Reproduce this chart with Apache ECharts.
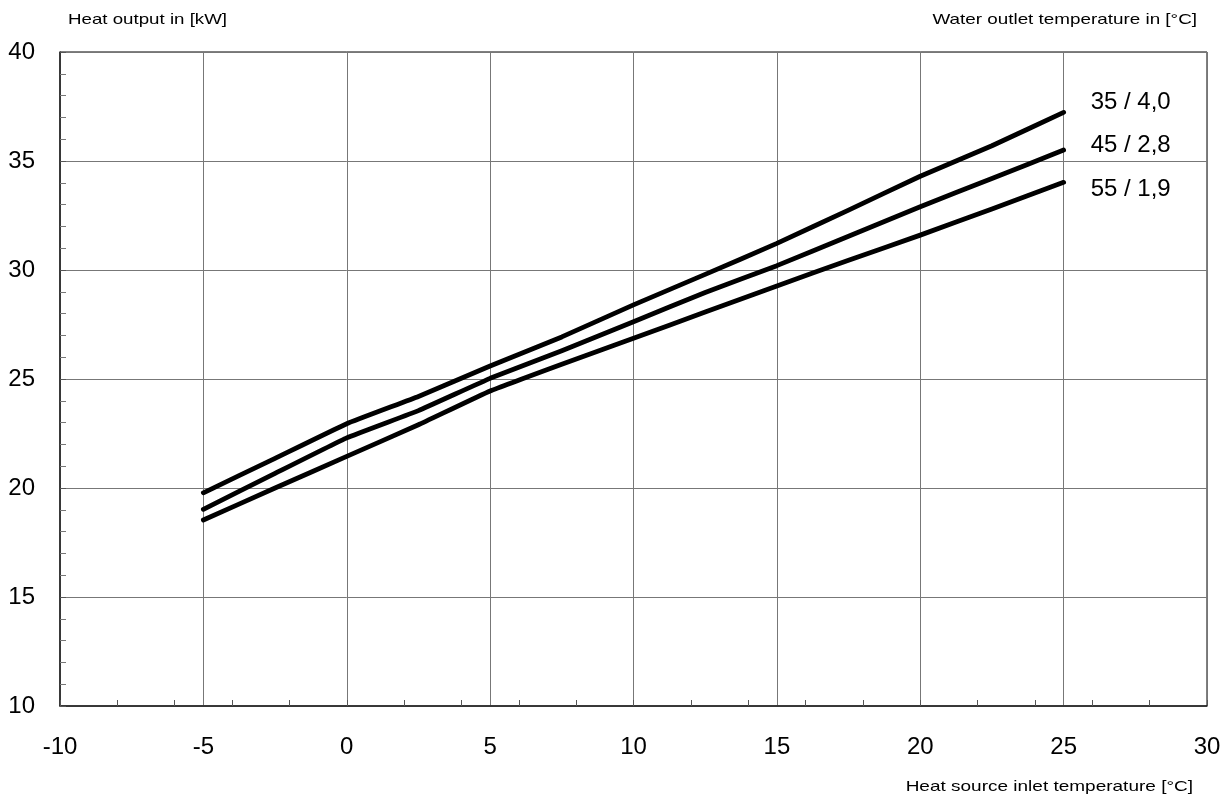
<!DOCTYPE html>
<html>
<head>
<meta charset="utf-8">
<script src="https://cdn.jsdelivr.net/npm/echarts@6/dist/echarts.min.js"></script>
<style>html,body{margin:0;padding:0;background:#fff;}#c{width:1229px;height:800px;}</style>
</head>
<body>
<div id="c"></div>
<script>
const xValues = [-5, -2.5, 0, 2.5, 5, 7.5, 10, 12.5, 15, 17.5, 20, 22.5, 25];
const seriesNames = ['35 / 4,0', '45 / 2,8', '55 / 1,9'];
const out35 = [19.78, 21.36, 22.95, 24.2, 25.6, 26.93, 28.4, 29.8, 31.22, 32.75, 34.3, 35.7, 37.23];
const out45 = [19.02, 20.67, 22.3, 23.55, 25.03, 26.3, 27.63, 28.97, 30.2, 31.55, 32.9, 34.2, 35.5];
const out55 = [18.53, 20.0, 21.45, 22.9, 24.45, 25.68, 26.87, 28.07, 29.27, 30.45, 31.6, 32.8, 34.02];
const yTitle = 'Heat output in [kW]';
const rightTitle = 'Water outlet temperature in [°C]';
const xTitle = 'Heat source inlet temperature [°C]';

const FONT = 'Liberation Sans, Arial, sans-serif';
const allSeries = [out35, out45, out55];
const labelOffsets = [[0, -10], [0, -5], [0, 7]];
const titleStyle = (text, align) => ({fill: '#000', text: text, font: '14.5px ' + FONT, textAlign: align, textVerticalAlign: 'middle'});

const chart = echarts.init(document.getElementById('c'), null, {renderer: 'canvas'});
chart.setOption({
  backgroundColor: '#fff',
  animation: false,
  graphic: [
    {type: 'text', x: 68, y: 20, scaleX: 1.29, style: titleStyle(yTitle, 'left')},
    {type: 'text', x: 1197, y: 20, scaleX: 1.30, style: titleStyle(rightTitle, 'right')},
    {type: 'text', x: 1193, y: 787, scaleX: 1.31, style: titleStyle(xTitle, 'right')}
  ],
  grid: {left: 60, right: 22, top: 52, bottom: 94, show: true, borderColor: '#000', borderWidth: 1, backgroundColor: 'transparent'},
  xAxis: [
    {
      type: 'value', min: -10, max: 30, interval: 5, position: 'bottom',
      axisLine: {show: true, onZero: false, lineStyle: {color: '#222', width: 1.5}},
      axisTick: {show: false},
      axisLabel: {margin: 29, fontFamily: FONT, fontSize: 24, color: '#000'},
      splitLine: {show: true, lineStyle: {color: '#777', width: 1}}
    },
    {
      type: 'value', min: -10, max: 30, interval: 2, position: 'bottom',
      axisLine: {show: false, onZero: false},
      axisTick: {show: true, inside: true, length: 6, lineStyle: {color: '#555', width: 1}},
      axisLabel: {show: false},
      splitLine: {show: false}
    }
  ],
  yAxis: {
    type: 'value', min: 10, max: 40, interval: 5,
    axisLine: {show: true, onZero: false, lineStyle: {color: '#222', width: 1.5}},
    axisTick: {show: true, inside: true, length: 6, lineStyle: {color: '#555'}},
    minorTick: {show: true, splitNumber: 5, length: 6, lineStyle: {color: '#777', width: 1}},
    axisLabel: {margin: 25, fontFamily: FONT, fontSize: 24, color: '#000'},
    splitLine: {show: true, lineStyle: {color: '#777', width: 1}}
  },
  series: allSeries.map((vals, i) => ({
    name: seriesNames[i],
    type: 'line',
    xAxisIndex: 0,
    data: xValues.map((x, j) => [x, vals[j]]),
    showSymbol: false,
    smooth: 0.1,
    lineStyle: {color: '#000', width: 4.8, cap: 'round', join: 'round'},
    itemStyle: {color: '#000'},
    endLabel: {
      show: true, formatter: '{a}', distance: 27, offset: labelOffsets[i],
      fontFamily: FONT, fontSize: 24, color: '#000'
    }
  }))
});
</script>
</body>
</html>
